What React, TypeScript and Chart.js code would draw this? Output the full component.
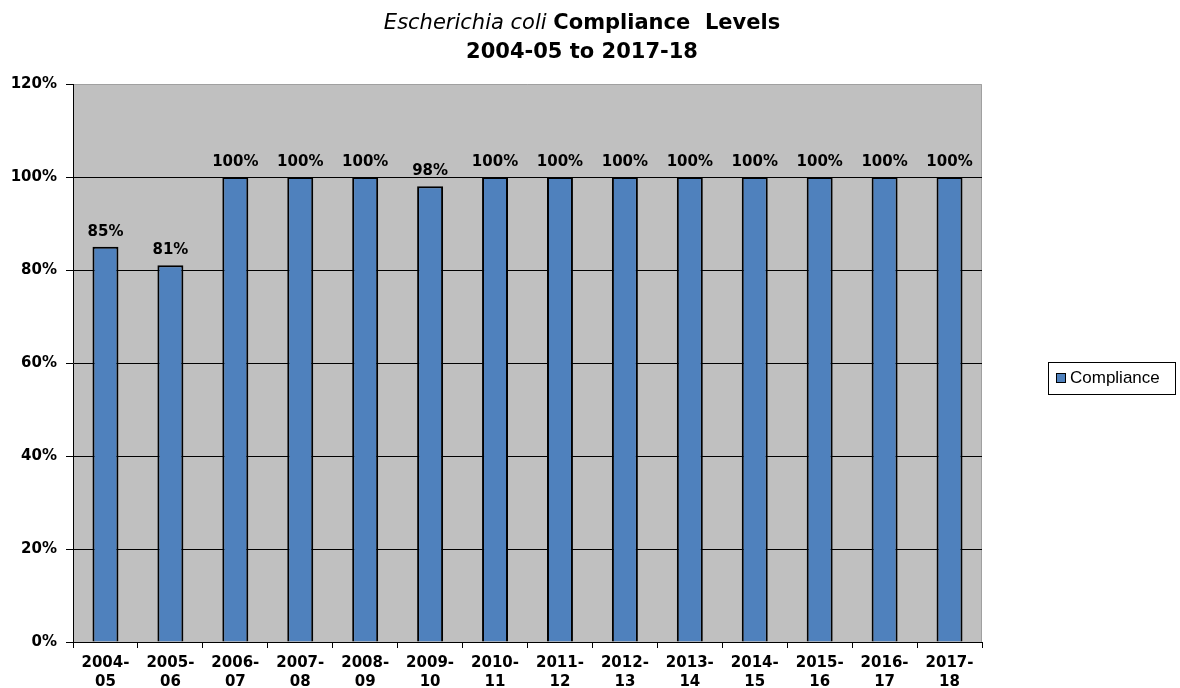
import React, { useEffect, useRef } from "react";
import { Chart, registerables } from "chart.js";

Chart.register(...registerables);

const categories: string[][] = [
  ["2004-", "05"], ["2005-", "06"], ["2006-", "07"], ["2007-", "08"], ["2008-", "09"],
  ["2009-", "10"], ["2010-", "11"], ["2011-", "12"], ["2012-", "13"], ["2013-", "14"],
  ["2014-", "15"], ["2015-", "16"], ["2016-", "17"], ["2017-", "18"],
];
const compliance: number[] = [85, 81, 100, 100, 100, 98, 100, 100, 100, 100, 100, 100, 100, 100];
const seriesName = "Compliance";
const titleItalic = "Escherichia coli";
const titleRest = "Compliance  Levels";
const titleLine2 = "2004-05 to 2017-18";

const FONT = "'DejaVu Sans', Verdana, sans-serif";
const BAR = "#4F81BD";

const decorPlugin = {
  id: "decor",
  beforeDraw(chart: any) {
    const { ctx, chartArea: a } = chart;
    ctx.save();
    ctx.fillStyle = "#C0C0C0";
    ctx.fillRect(a.left, a.top, a.right - a.left, a.bottom - a.top);
    ctx.strokeStyle = "#A0A0A0";
    ctx.lineWidth = 1;
    ctx.beginPath();
    ctx.moveTo(a.left, a.top + 0.5);
    ctx.lineTo(a.right - 0.5, a.top + 0.5);
    ctx.lineTo(a.right - 0.5, a.bottom);
    ctx.stroke();
    ctx.restore();
  },
  afterDraw(chart: any) {
    const { ctx } = chart;
    ctx.save();
    // Title
    ctx.fillStyle = "#000";
    ctx.textBaseline = "alphabetic";
    const f1 = `italic 21px ${FONT}`;
    const f2 = `bold 21px ${FONT}`;
    ctx.font = f1;
    const w1 = ctx.measureText(titleItalic + " ").width;
    ctx.font = f2;
    const w2 = ctx.measureText(titleRest).width;
    const cx = 582;
    const x = cx - (w1 + w2) / 2;
    ctx.font = f1;
    ctx.textAlign = "left";
    ctx.fillText(titleItalic + " ", x, 29);
    ctx.font = f2;
    ctx.fillText(titleRest, x + w1, 29);
    ctx.textAlign = "center";
    ctx.fillText(titleLine2, cx, 58);

    // Data labels
    const meta = chart.getDatasetMeta(0);
    ctx.font = `bold 15px ${FONT}`;
    ctx.textAlign = "center";
    ctx.textBaseline = "alphabetic";
    meta.data.forEach((bar: any, i: number) => {
      ctx.fillText(compliance[i] + "%", bar.x, bar.y - 11);
    });

    // Legend
    const lx = 1048, ly = 362, lw = 127, lh = 32;
    ctx.fillStyle = "#fff";
    ctx.fillRect(lx, ly, lw, lh);
    ctx.strokeStyle = "#000";
    ctx.lineWidth = 1;
    ctx.strokeRect(lx + 0.5, ly + 0.5, lw, lh);
    ctx.fillStyle = BAR;
    ctx.fillRect(lx + 8, ly + 11, 9, 9);
    ctx.strokeRect(lx + 8.5, ly + 11.5, 9, 9);
    ctx.fillStyle = "#000";
    ctx.font = `17px 'Liberation Sans', Arial, sans-serif`;
    ctx.textAlign = "left";
    ctx.textBaseline = "middle";
    ctx.fillText(seriesName, lx + 22, ly + 16);
    ctx.restore();
  },
};

export default function App() {
  const ref = useRef<HTMLCanvasElement>(null);
  useEffect(() => {
    document.body.style.margin = "0";
    const chart = new Chart(ref.current!, {
      type: "bar",
      data: {
        labels: categories as any,
        datasets: [
          {
            label: seriesName,
            data: compliance,
            backgroundColor: BAR,
            borderColor: "#000",
            borderWidth: 2,
            barPercentage: 0.4,
            categoryPercentage: 1,
          },
        ],
      },
      options: {
        animation: false,
        responsive: false,
        layout: { padding: { top: 84, right: 198, left: 0, bottom: 0 } },
        plugins: { legend: { display: false }, title: { display: false }, tooltip: { enabled: false } },
        scales: {
          x: {
            grid: { offset: true, drawOnChartArea: false, color: "#000", tickLength: 6 },
            border: { color: "#000", width: 1 },
            ticks: {
              color: "#000",
              font: { family: FONT, size: 15, weight: "bold", lineHeight: 1.25 },
              maxRotation: 0,
              autoSkip: false,
              padding: 6,
            },
            afterFit(s: any) { s.height = 46; },
          },
          y: {
            min: 0,
            max: 120,
            grid: {
              color: (c: any) => (c.tick && c.tick.value === 120 ? "rgba(0,0,0,0)" : "#000"),
              tickLength: 7,
              tickColor: "#000",
            },
            border: { color: "#000", width: 1 },
            ticks: {
              stepSize: 20,
              color: "#000",
              font: { family: FONT, size: 15, weight: "bold" },
              callback: (v: any) => v + "%",
              padding: 9,
            },
            afterFit(s: any) { s.width = 73; },
          },
        },
      },
      plugins: [decorPlugin],
    });
    return () => chart.destroy();
  }, []);
  return (
    <div style={{ width: 1180, height: 688, background: "#fff" }}>
      <canvas ref={ref} width={1180} height={688} style={{ display: "block" }} />
    </div>
  );
}
